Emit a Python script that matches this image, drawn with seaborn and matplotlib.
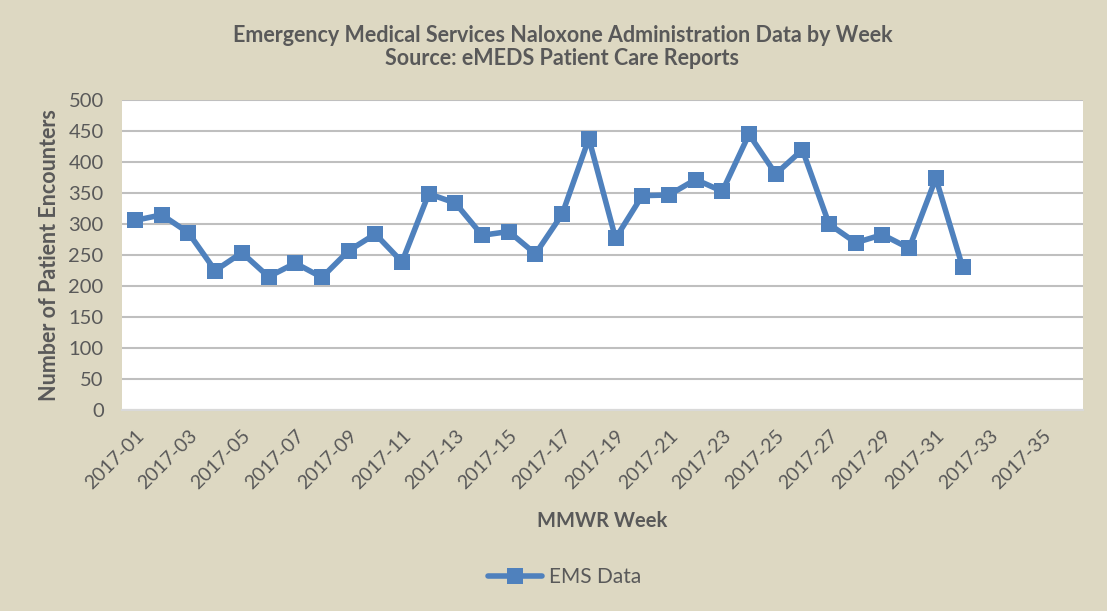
import numpy as np
import pandas as pd
import matplotlib
matplotlib.use("Agg")
import matplotlib.pyplot as plt
import seaborn as sns

# weekly EMS naloxone administrations
weeks = list(range(1, 33))
encounters = [306, 315, 286, 225, 254, 215, 237, 214, 257, 284, 239, 349,
              334, 282, 288, 252, 316, 438, 277, 346, 347, 372, 353, 445,
              381, 420, 300, 270, 283, 261, 374, 231]
week_labels = ["2017-%02d" % w for w in range(1, 37)]
y_ticks = [0, 50, 100, 150, 200, 250, 300, 350, 400, 450, 500]

df = pd.DataFrame({"week": weeks, "EMS Data": encounters})

sns.set_style("white")
plt.rcParams["font.family"] = ["Lato", "DejaVu Sans"]

bg = "#DDD8C2"
txt = "#595959"
blue = "#4F81BD"

fig = plt.figure(figsize=(11.07, 6.11), dpi=100, facecolor=bg)
ax = fig.add_axes([0.110, 0.329, 0.868, 0.507])
ax.set_facecolor("white")

sns.lineplot(data=df, x="week", y="EMS Data", ax=ax, color=blue, lw=4,
             marker="s", markersize=11, markeredgewidth=0, label="EMS Data",
             legend=False)

ax.set_xlim(0.5, len(week_labels) + 0.5)
ax.set_ylim(0, 500)
ax.set_yticks(y_ticks)
ax.set_yticklabels([str(v) for v in y_ticks], fontsize=14.5, color=txt)
ax.yaxis.grid(True, color="#BFBFBF", lw=1.5)
ax.set_axisbelow(True)

pos = np.arange(1, len(week_labels) + 1)
ax.set_xticks(pos[::2])
ax.set_xticklabels(week_labels[::2], rotation=45, ha="right",
                   rotation_mode="anchor", fontsize=14, color=txt)
ax.set_xticks(np.arange(0.5, len(week_labels) + 1, 1), minor=True)
ax.tick_params(axis="x", which="major", length=0, pad=12)
ax.tick_params(axis="x", which="minor", length=7, direction="in",
               color="#D9D9D9", width=1)
ax.tick_params(axis="y", length=0, pad=13)

for s in ["top", "left", "right"]:
    ax.spines[s].set_visible(False)
ax.spines["bottom"].set_color("#D9D9D9")
ax.spines["bottom"].set_linewidth(1.5)

ax.set_xlabel("MMWR Week", fontsize=14.5, fontweight="bold", color=txt,
              labelpad=14)
ax.set_ylabel("Number of Patient Encounters", fontsize=15.5, fontweight="bold",
              color=txt, labelpad=6)

fig.text(0.508, 0.942, "Emergency Medical Services Naloxone Administration Data by Week",
         ha="center", va="center", fontsize=15.5, fontweight="bold", color=txt)
fig.text(0.508, 0.904, "Source: eMEDS Patient Care Reports",
         ha="center", va="center", fontsize=15.5, fontweight="bold", color=txt)

handles, labels = ax.get_legend_handles_labels()
leg = fig.legend(handles, labels, loc="center", bbox_to_anchor=(0.51, 0.055),
                 frameon=False, fontsize=15, handlelength=2.6,
                 handletextpad=0.3)
for t in leg.get_texts():
    t.set_color(txt)

fig.savefig("out.png", dpi=100, facecolor=bg)
